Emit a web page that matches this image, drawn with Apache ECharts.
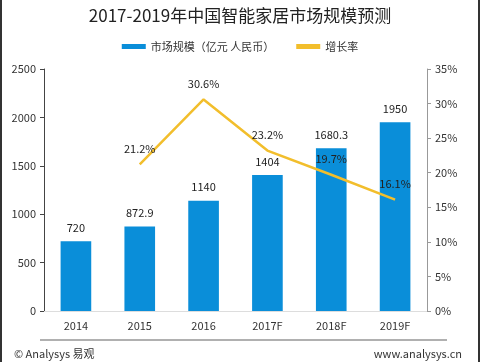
<!DOCTYPE html>
<html><head><meta charset="utf-8">
<script src="https://cdn.jsdelivr.net/npm/echarts@6/dist/echarts.min.js"></script>
<style>
html,body{margin:0;padding:0;background:#fff;}
#c{width:480px;height:362px;box-sizing:border-box;border-left:2px solid #333;border-right:2px solid #333;}
</style></head>
<body><div id="c"></div>
<script>
const categories = ['2014','2015','2016','2017F','2018F','2019F'];
const marketSize = [720, 872.9, 1140, 1404, 1680.3, 1950];
const growthRate = ['-', 21.2, 30.6, 23.2, 19.7, 16.1];
const barName = '市场规模（亿元 人民币）';
const lineName = '增长率';

const font = '"Noto Sans CJK SC", "Noto Sans", sans-serif';
const chart = echarts.init(document.getElementById('c'));
chart.setOption({
  animation: false,
  textStyle: {fontFamily: font},
  title: {text: '2017-2019年中国智能家居市场规模预测', left: 'center', top: 2,
    textStyle: {fontSize: 17, fontWeight: 'normal', color: '#222', fontFamily: font}},
  legend: {top: 36, left: 'center', itemGap: 22, itemWidth: 24, itemHeight: 5,
    textStyle: {fontSize: 11, color: '#333', fontFamily: font},
    data: [{name: barName, icon: 'rect'}, {name: lineName, icon: 'rect', itemStyle: {color: '#F2BE2C'}}]},
  grid: {left: 42, right: 51, top: 69, bottom: 51},
  xAxis: {type: 'category', data: categories,
    axisLine: {lineStyle: {color: '#ddd'}}, axisTick: {show: false},
    axisLabel: {fontSize: 11, color: '#333', margin: 9}},
  yAxis: [
    {type: 'value', min: 0, max: 2500, interval: 500, splitLine: {show: false},
     axisLine: {show: true, lineStyle: {color: '#444'}}, axisTick: {show: true, length: 4, lineStyle: {color: '#444'}},
     axisLabel: {fontSize: 11, color: '#333', margin: 8, formatter: v => String(v)}},
    {type: 'value', min: 0, max: 35, interval: 5, splitLine: {show: false},
     axisLine: {show: true, lineStyle: {color: '#999'}}, axisTick: {show: true, length: 4, lineStyle: {color: '#999'}},
     axisLabel: {fontSize: 11, color: '#333', margin: 8, formatter: '{value}%'}}
  ],
  series: [
    {name: barName, type: 'bar', data: marketSize, barWidth: '48%',
     itemStyle: {color: '#0A8ED9'},
     label: {show: true, position: 'top', distance: 8, fontSize: 11, color: '#222'}},
    {name: lineName, type: 'line', yAxisIndex: 1, data: growthRate,
     symbol: 'circle', symbolSize: 0, showSymbol: true,
     lineStyle: {color: '#F2BE2C', width: 2.5}, itemStyle: {color: '#F2BE2C'},
     label: {show: true, position: 'top', distance: 10, fontSize: 11, color: '#222', formatter: '{c}%'}}
  ],
  graphic: [
    {type: 'rect', z: 100, shape: {x: 38, y: 339, width: 407, height: 2}, style: {fill: '#b0b0b0'}},
    {type: 'text', left: 12, top: 348, style: {text: '© Analysys 易观', fontSize: 11, fill: '#333', fontFamily: font}},
    {type: 'text', right: 16, top: 348, style: {text: 'www.analysys.cn', fontSize: 11, fill: '#333', fontFamily: font}}
  ]
});
</script></body></html>
